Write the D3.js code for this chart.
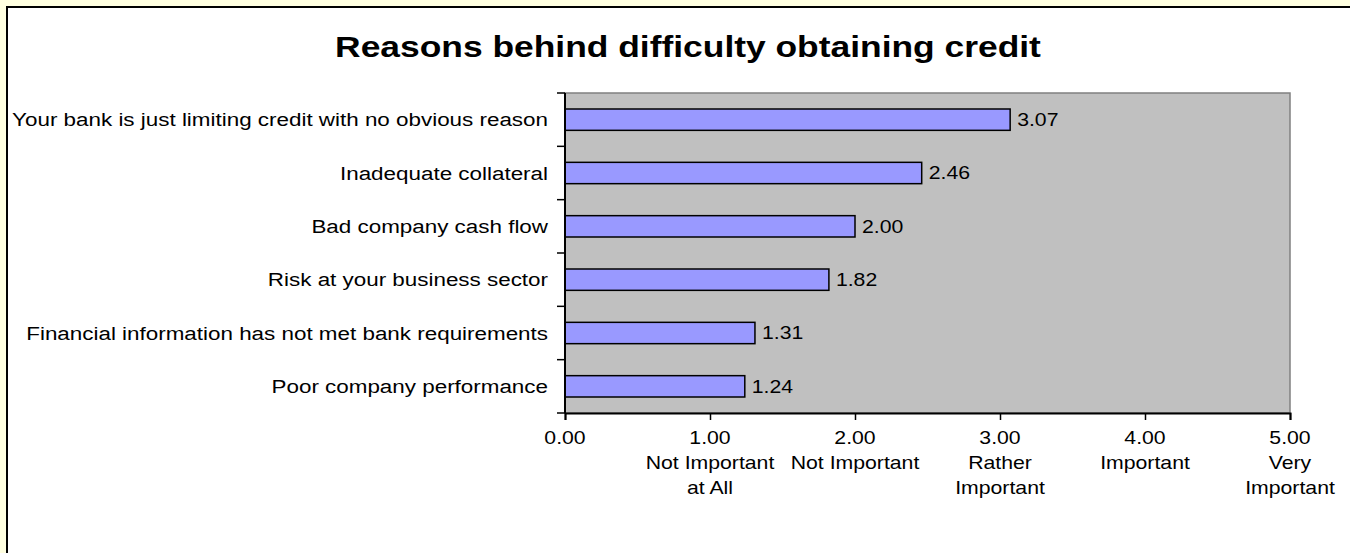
<!DOCTYPE html>
<html>
<head>
<meta charset="utf-8">
<script src="https://cdn.jsdelivr.net/npm/d3@7/dist/d3.min.js"></script>
<style>
  html, body { margin: 0; padding: 0; background: #FFFFE0; }
  svg { display: block; }
  text { font-family: Arial, "Liberation Sans", sans-serif; fill: #000; }
</style>
</head>
<body>
<svg id="chart" width="1350" height="553"></svg>
<script>
// Survey answers: mean importance rating per reason (1 = not important at all, 5 = very important)
const categories = [
  "Your bank is just limiting credit with no obvious reason",
  "Inadequate collateral",
  "Bad company cash flow",
  "Risk at your business sector",
  "Financial information has not met bank requirements",
  "Poor company performance"
];
const values = [3.07, 2.46, 2.00, 1.82, 1.31, 1.24];
const tickValues = [0, 1, 2, 3, 4, 5];
const tickCaptions = [
  [],
  ["Not Important", "at All"],
  ["Not Important"],
  ["Rather", "Important"],
  ["Important"],
  ["Very", "Important"]
];
const chartTitle = "Reasons behind difficulty obtaining credit";

const svg = d3.select("#chart");
const W = 1350, H = 553;
// the lettering is set slightly wide
const STRETCH = 1.18;
const place = (px, py) => `translate(${px},${py}) scale(${STRETCH},1)`;

// light yellow page with white chart sheet
svg.append("rect").attr("x", 0).attr("y", 0).attr("width", W).attr("height", H).attr("fill", "#FFFFE0");
svg.append("rect").attr("x", 7).attr("y", 7).attr("width", W + 20).attr("height", H + 20)
  .attr("fill", "#FFFFFF").attr("stroke", "#000").attr("stroke-width", 2);

const plot = { left: 565, right: 1290, top: 93, bottom: 413 };

const x = d3.scaleLinear().domain([0, 5]).range([plot.left, plot.right]);
const y = d3.scaleBand().domain(categories).range([plot.top, plot.bottom]).paddingInner(0.6).paddingOuter(0.3);
const yBand = d3.scaleBand().domain(categories).range([plot.top, plot.bottom]);

// title
svg.append("text")
  .attr("transform", place(688, 57))
  .attr("text-anchor", "middle")
  .style("font-size", "30px").style("font-weight", "bold")
  .text(chartTitle);

// plot area
svg.append("rect")
  .attr("x", plot.left).attr("y", plot.top)
  .attr("width", plot.right - plot.left).attr("height", plot.bottom - plot.top)
  .attr("fill", "#C0C0C0").attr("stroke", "#808080").attr("stroke-width", 1.5);

// bars
svg.append("g").selectAll("rect")
  .data(values)
  .join("rect")
  .attr("x", x(0))
  .attr("y", (d, i) => y(categories[i]))
  .attr("width", d => x(d) - x(0))
  .attr("height", y.bandwidth())
  .attr("fill", "#9999FF")
  .attr("stroke", "#000").attr("stroke-width", 1.5);

// value labels
svg.append("g").selectAll("text")
  .data(values)
  .join("text")
  .attr("transform", (d, i) => place(x(d) + 7, y(categories[i]) + y.bandwidth() / 2))
  .attr("dy", "0.35em")
  .style("font-size", "18px")
  .text(d => d.toFixed(2));

// category axis: ticks at band boundaries, labels centred in bands
const yAxisG = svg.append("g");
yAxisG.append("line")
  .attr("x1", plot.left).attr("x2", plot.left)
  .attr("y1", plot.top).attr("y2", plot.bottom)
  .attr("stroke", "#000").attr("stroke-width", 2);
const boundaries = categories.map(c => yBand(c)).concat([plot.bottom]);
yAxisG.selectAll("line.tick").data(boundaries).join("line")
  .attr("class", "tick")
  .attr("x1", plot.left - 8).attr("x2", plot.left)
  .attr("y1", d => d).attr("y2", d => d)
  .attr("stroke", "#000").attr("stroke-width", 1.5);
yAxisG.selectAll("text").data(categories).join("text")
  .attr("transform", d => place(plot.left - 17, yBand(d) + yBand.bandwidth() / 2))
  .attr("dy", "0.35em")
  .attr("text-anchor", "end")
  .style("font-size", "19px")
  .text(d => d);

// value axis
const xAxis = d3.axisBottom(x).tickValues(tickValues).tickSize(7).tickFormat(() => "");
const xAxisG = svg.append("g").attr("transform", `translate(0,${plot.bottom})`).call(xAxis);
xAxisG.select(".domain").attr("stroke", "#000").attr("stroke-width", 2);
xAxisG.selectAll(".tick line").attr("stroke", "#000").attr("stroke-width", 1.5);

const labels = svg.append("g").selectAll("text")
  .data(tickValues)
  .join("text")
  .attr("transform", d => place(x(d), plot.bottom + 31))
  .attr("text-anchor", "middle")
  .style("font-size", "18px");
labels.each(function (d, i) {
  const t = d3.select(this);
  const lines = [d.toFixed(2)].concat(tickCaptions[i]);
  lines.forEach((s, k) => {
    t.append("tspan").attr("x", 0).attr("dy", k === 0 ? 0 : 25).text(s);
  });
});
</script>
</body>
</html>
